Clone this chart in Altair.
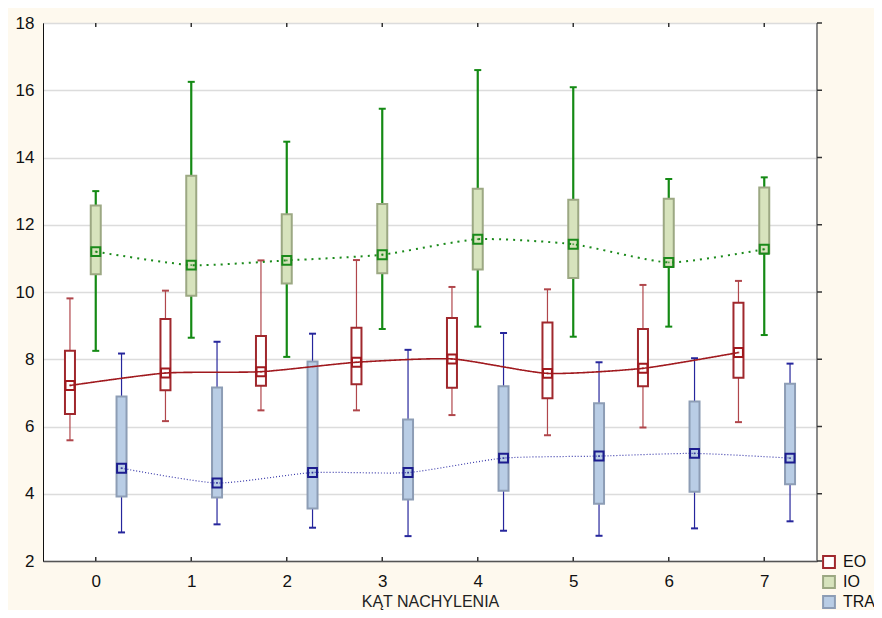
import altair as alt
import pandas as pd

cats = [0, 1, 2, 3, 4, 5, 6, 7]
series_names = ["EO", "IO", "TRA"]

EO_max = [9.81, 10.04, 10.94, 10.95, 10.15, 10.08, 10.21, 10.33]
EO_q3 = [8.25, 9.20, 8.69, 8.94, 9.23, 9.09, 8.90, 9.68]
EO_med = [7.22, 7.59, 7.63, 7.91, 8.01, 7.58, 7.73, 8.20]
EO_q1 = [6.37, 7.08, 7.21, 7.26, 7.15, 6.84, 7.20, 7.45]
EO_min = [5.59, 6.16, 6.48, 6.48, 6.34, 5.74, 5.97, 6.13]

IO_max = [13.00, 16.25, 14.47, 15.45, 16.60, 16.09, 13.36, 13.41]
IO_q3 = [12.57, 13.46, 12.31, 12.62, 13.07, 12.74, 12.77, 13.11]
IO_med = [11.20, 10.80, 10.94, 11.11, 11.57, 11.42, 10.88, 11.27]
IO_q1 = [10.53, 9.89, 10.25, 10.56, 10.67, 10.42, 10.75, 11.15]
IO_min = [8.25, 8.64, 8.07, 8.90, 8.97, 8.67, 8.97, 8.72]

TRA_max = [8.17, 8.52, 8.76, 8.28, 8.78, 7.91, 8.03, 7.87]
TRA_q3 = [6.89, 7.16, 7.93, 6.21, 7.20, 6.69, 6.74, 7.27]
TRA_med = [4.76, 4.32, 4.63, 4.63, 5.06, 5.12, 5.20, 5.06]
TRA_q1 = [3.92, 3.89, 3.56, 3.83, 4.09, 3.70, 4.06, 4.28]
TRA_min = [2.85, 3.09, 2.99, 2.74, 2.90, 2.75, 2.97, 3.18]

y_ticks = [2, 4, 6, 8, 10, 12, 14, 16, 18]

stats = {
    "EO": (EO_min, EO_q1, EO_med, EO_q3, EO_max),
    "IO": (IO_min, IO_q1, IO_med, IO_q3, IO_max),
    "TRA": (TRA_min, TRA_q1, TRA_med, TRA_q3, TRA_max),
}
offsets = {"EO": -0.27, "IO": 0.0, "TRA": 0.27}

rows = []
for s, (mn, q1, md, q3, mx) in stats.items():
    for i, c in enumerate(cats):
        rows.append(dict(series=s, cat=c, pos=c + offsets[s],
                         lo=mn[i], q1=q1[i], med=md[i], q3=q3[i], hi=mx[i]))
df = pd.DataFrame(rows)
cat_df = pd.DataFrame({"cat": cats})
ytick_df = pd.DataFrame({"v": y_ticks})

FONT = "Liberation Sans"
xscale = alt.Scale(domain=[-0.5, 7.5], nice=False, zero=False)
yscale = alt.Scale(domain=[2, 18], nice=False, zero=False)

xaxis = alt.Axis(values=cats, title="KĄT NACHYLENIA", grid=False, ticks=False,
                 labelPadding=12, labelFontSize=17, labelFont=FONT, labelColor="#111",
                 titleFont=FONT, titleFontSize=16, titleFontWeight="normal",
                 titleColor="#222", titlePadding=4, domainColor="#555", domainWidth=1.5)
yaxis = alt.Axis(values=y_ticks, title=None, grid=True, gridColor="#dcdcdc", gridWidth=1.5,
                 ticks=False, labelPadding=9, labelFontSize=17, labelFont=FONT,
                 labelColor="#111", domainColor="#111", domainWidth=1)

style = {
    "EO": dict(whisk="#b0464b", wwidth=1.2, mark="#a0191e", line="#a0191e",
               lwidth=1.6, dash=[1, 0]),
    "IO": dict(whisk="#148a14", wwidth=2.2, mark="#1a8a1a", line="#1a8a1a",
               lwidth=2.0, dash=[2, 5]),
    "TRA": dict(whisk="#26269c", wwidth=1.2, mark="#1c1c8e", line="#3a3aaa",
                lwidth=1.2, dash=[1, 2]),
}
fill_sc = alt.Scale(domain=series_names, range=["#ffffff", "#d7e3bd", "#b9cde5"])
stroke_sc = alt.Scale(domain=series_names, range=["#a0282d", "#9ca883", "#8d9db5"])

X = alt.X("pos:Q", scale=xscale, axis=xaxis)

whisk_layers, cap_layers, line_layers, sq_layers = [], [], [], []
for s in series_names:
    st = style[s]
    sub = alt.Chart(df).transform_filter(alt.datum.series == s)
    whisk_layers.append(sub.mark_rule(color=st["whisk"], strokeWidth=st["wwidth"]).encode(
        x=X, y=alt.Y("lo:Q", scale=yscale, axis=yaxis), y2="hi:Q"))
    for fld in ["lo", "hi"]:
        cap_layers.append(sub.mark_tick(orient="horizontal", size=7, thickness=2,
                                        color=st["whisk"], opacity=1).encode(
            x=X, y=alt.Y(f"{fld}:Q", scale=yscale, axis=yaxis)))
    line_layers.append(sub.mark_line(color=st["line"], strokeWidth=st["lwidth"],
                                     strokeDash=st["dash"], interpolate="cardinal",
                                     tension=0.4).encode(
        x=X, y=alt.Y("med:Q", scale=yscale, axis=yaxis)))
    sq_layers.append(sub.mark_point(shape="square", size=80, filled=False, strokeWidth=2,
                                    color=st["mark"], opacity=1).encode(
        x=X, y=alt.Y("med:Q", scale=yscale, axis=yaxis)))
    sq_layers.append(sub.mark_point(shape="square", size=3, filled=True,
                                    color=st["mark"], opacity=0.7).encode(
        x=X, y=alt.Y("med:Q", scale=yscale, axis=yaxis)))

leg = alt.Legend(title=None, orient="none", legendX=778, legendY=531,
                 symbolType="square", symbolSize=140, symbolStrokeWidth=2,
                 labelFont=FONT, labelFontSize=16, labelColor="#111",
                 rowPadding=0, labelOffset=6, padding=0)

boxes = alt.Chart(df).mark_bar(size=10, strokeWidth=2, opacity=1).encode(
    x=X,
    y=alt.Y("q1:Q", scale=yscale, axis=yaxis),
    y2="q3:Q",
    fill=alt.Fill("series:N", scale=fill_sc, legend=leg),
    stroke=alt.Stroke("series:N", scale=stroke_sc, legend=leg),
)

bottom_ticks = alt.Chart(cat_df).mark_rule(color="#333", strokeWidth=1.5).encode(
    x=alt.X("cat:Q", scale=xscale, axis=xaxis), y=alt.value(538), y2=alt.value(534))
top_ticks = alt.Chart(cat_df).mark_rule(color="#333", strokeWidth=1.5).encode(
    x=alt.X("cat:Q", scale=xscale, axis=xaxis), y=alt.value(0), y2=alt.value(4))
right_border = alt.Chart(cat_df).mark_rule(color="#8a8a8a", strokeWidth=2).encode(
    x=alt.value(774), y=alt.value(0), y2=alt.value(538))
right_ticks = alt.Chart(ytick_df).mark_rule(color="#333", strokeWidth=1.5).encode(
    y=alt.Y("v:Q", scale=yscale, axis=yaxis), x=alt.value(774), x2=alt.value(779))

chart = alt.layer(
    *whisk_layers, *cap_layers, boxes, *line_layers, *sq_layers,
    bottom_ticks, top_ticks, right_border, right_ticks
).properties(
    width=774, height=538,
    autosize=alt.AutoSizeParams(type="none"),
    padding={"left": 35, "top": 15, "right": 57, "bottom": 49},
    background="#fef9ee",
).configure_view(
    fill="white", stroke="#222", strokeWidth=1
)

chart.save("out.html", embed_options={"renderer": "svg", "actions": False})
